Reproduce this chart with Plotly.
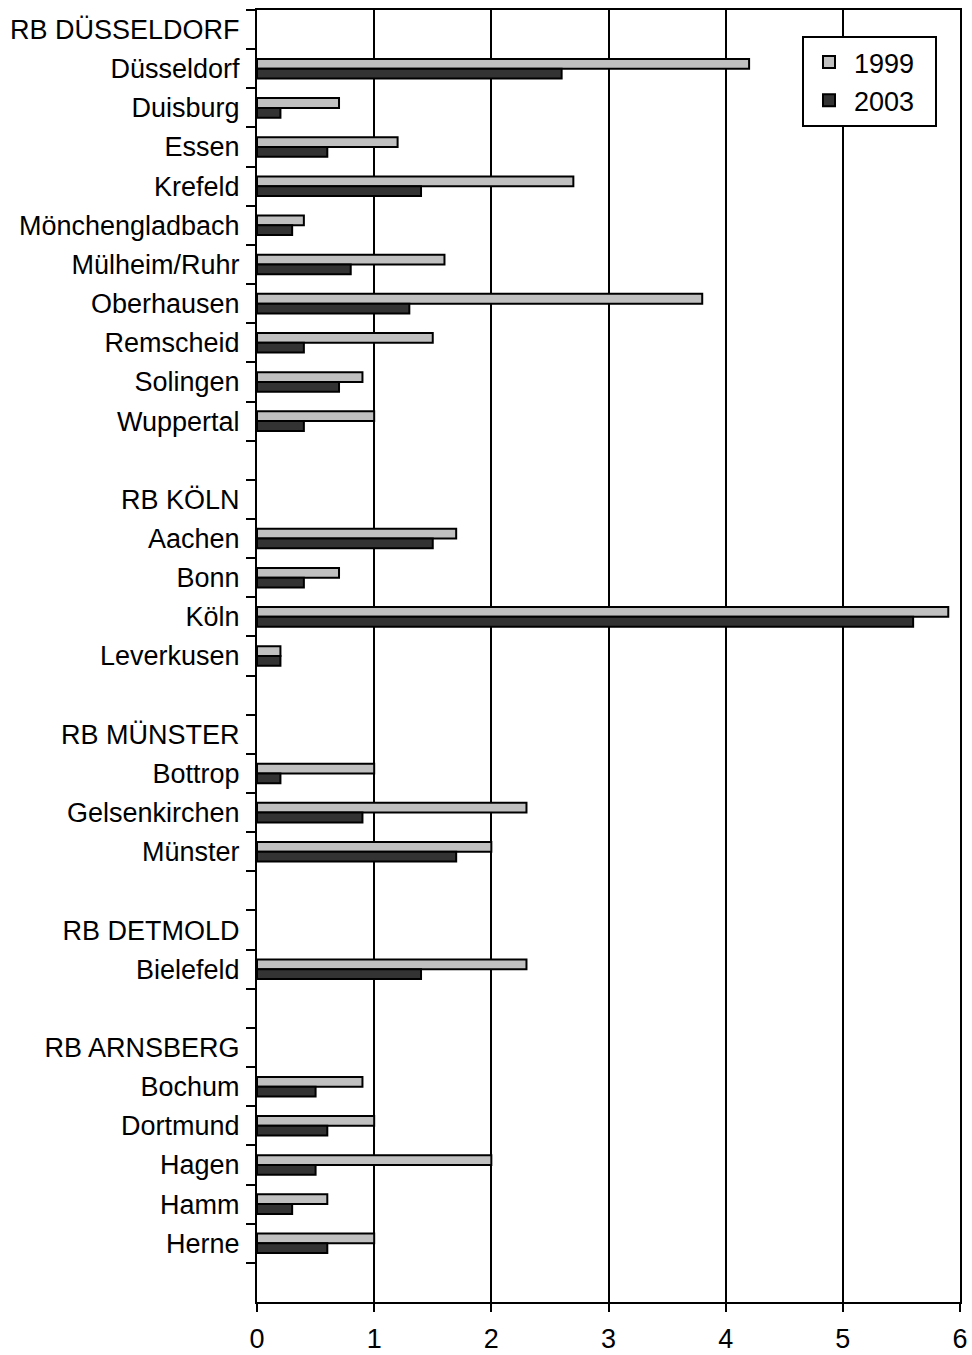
import plotly.graph_objects as go

categories = [
    "RB DÜSSELDORF", "Düsseldorf", "Duisburg", "Essen", "Krefeld", "Mönchengladbach",
    "Mülheim/Ruhr", "Oberhausen", "Remscheid", "Solingen", "Wuppertal", " ",
    "RB KÖLN", "Aachen", "Bonn", "Köln", "Leverkusen", "  ",
    "RB MÜNSTER", "Bottrop", "Gelsenkirchen", "Münster", "   ",
    "RB DETMOLD", "Bielefeld", "    ",
    "RB ARNSBERG", "Bochum", "Dortmund", "Hagen", "Hamm", "Herne", "     ",
]
values_1999 = [
    None, 4.2, 0.7, 1.2, 2.7, 0.4, 1.6, 3.8, 1.5, 0.9, 1.0, None,
    None, 1.7, 0.7, 5.9, 0.2, None,
    None, 1.0, 2.3, 2.0, None,
    None, 2.3, None,
    None, 0.9, 1.0, 2.0, 0.6, 1.0, None,
]
values_2003 = [
    None, 2.6, 0.2, 0.6, 1.4, 0.3, 0.8, 1.3, 0.4, 0.7, 0.4, None,
    None, 1.5, 0.4, 5.6, 0.2, None,
    None, 0.2, 0.9, 1.7, None,
    None, 1.4, None,
    None, 0.5, 0.6, 0.5, 0.3, 0.6, None,
]
series_names = ["1999", "2003"]
x_ticks = [0, 1, 2, 3, 4, 5, 6]

FONT = "Liberation Sans, Arial, sans-serif"
PAD = "\u00a0\u00a0"

fig = go.Figure()
fig.add_trace(go.Bar(
    y=categories, x=values_1999, orientation="h", name=series_names[0] + PAD,
    marker=dict(color="#c0c0c0", line=dict(color="black", width=2)),
))
fig.add_trace(go.Bar(
    y=categories, x=values_2003, orientation="h", name=series_names[1] + PAD,
    marker=dict(color="#333333", line=dict(color="black", width=2)),
))

fig.update_layout(
    width=972, height=1355,
    margin=dict(l=257, r=12, t=10, b=53),
    paper_bgcolor="white", plot_bgcolor="white",
    barmode="group", bargap=0.5, bargroupgap=0,
    font=dict(family=FONT, size=27, color="black"),
    showlegend=True,
    legend=dict(
        x=(802 - 257) / 703, y=1 - (36 - 10) / 1292, xanchor="left", yanchor="top",
        bgcolor="white", bordercolor="black", borderwidth=2,
        font=dict(size=27), traceorder="normal",
        itemwidth=40,
    ),
    xaxis=dict(
        range=[0, 6], tickvals=x_ticks, ticktext=[str(v) for v in x_ticks],
        showgrid=True, gridcolor="black", gridwidth=1.5,
        showline=True, linecolor="black", linewidth=2, mirror=True,
        ticks="outside", ticklen=8, tickwidth=2, tickcolor="black",
        zeroline=False, fixedrange=True, automargin=False, ticklabelstandoff=4,
    ),
    yaxis=dict(
        type="category", categoryorder="array", categoryarray=categories,
        autorange="reversed", tickson="boundaries",
        showline=True, linecolor="black", linewidth=2, mirror=True,
        ticks="outside", ticklen=9, tickwidth=2, tickcolor="black",
        showgrid=False, zeroline=False, ticklabelstandoff=10,
        automargin=False, fixedrange=True,
    ),
)

fig.write_html(
    "out.html",
    config={"displayModeBar": False},
    post_script="document.body.style.margin='0';document.body.style.overflow='hidden';",
)
